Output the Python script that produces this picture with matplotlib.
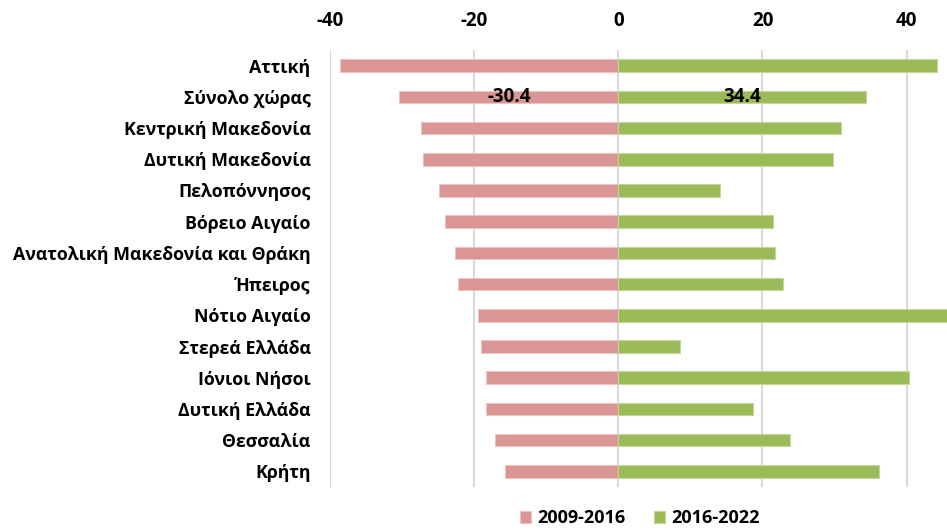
import numpy as np
import matplotlib.pyplot as plt

# === Data ===
regions = [
    "Αττική", "Σύνολο χώρας", "Κεντρική Μακεδονία", "Δυτική Μακεδονία",
    "Πελοπόννησος", "Βόρειο Αιγαίο", "Ανατολική Μακεδονία και Θράκη",
    "Ήπειρος", "Νότιο Αιγαίο", "Στερεά Ελλάδα", "Ιόνιοι Νήσοι",
    "Δυτική Ελλάδα", "Θεσσαλία", "Κρήτη",
]
change_2009_2016 = [-38.6, -30.4, -27.4, -27.1, -24.9, -24.1, -22.7,
                    -22.3, -19.5, -19.1, -18.3, -18.3, -17.1, -15.7]
change_2016_2022 = [44.2, 34.4, 30.9, 29.8, 14.1, 21.5, 21.8,
                    22.9, 47.0, 8.6, 40.3, 18.7, 23.8, 36.2]
labelled = "Σύνολο χώρας"

plt.rcParams['font.family'] = ['Open Sans', 'DejaVu Sans']
plt.rcParams['font.weight'] = 'bold'
plt.rcParams['axes.unicode_minus'] = False

fig = plt.figure(figsize=(9.47, 5.31), dpi=100)
ax = fig.add_axes([0.3485, 0.0829, 0.6515, 0.8229])

y = np.arange(len(regions))
b1 = ax.barh(y, change_2009_2016, height=0.4, color='#D99694',
             edgecolor='#EBC4C3', linewidth=0.8, label="2009-2016", zorder=3)
b2 = ax.barh(y, change_2016_2022, height=0.4, color='#9BBB59',
             edgecolor='#C3D69B', linewidth=0.8, label="2016-2022", zorder=3)

# value labels only for the national total
idx = regions.index(labelled)
for bars, vals in ((b1, change_2009_2016), (b2, change_2016_2022)):
    r = bars[idx]
    ax.text(r.get_x() + r.get_width() / 2, r.get_y() + r.get_height() / 2,
            f"{vals[idx]:.1f}", ha='center', va='center', fontsize=13.5,
            fontweight='bold', color='black', zorder=4)

ax.set_xlim(-40, 45.6)
ax.set_ylim(len(regions) - 0.5, -0.5)
ax.set_xticks([-40, -20, 0, 20, 40])
ax.set_yticks(y)
ax.set_yticklabels(regions)
ax.xaxis.tick_top()
ax.tick_params(axis='x', length=0, pad=14, labelsize=13.5)
ax.tick_params(axis='y', length=0, pad=14, labelsize=12.8)
ax.grid(axis='x', color='#D9D9D9', linewidth=1.5, zorder=0)
ax.set_axisbelow(True)
for s in ax.spines.values():
    s.set_visible(False)

fig.legend(handles=[b1, b2], loc='center', bbox_to_anchor=(0.676, 0.024),
           ncol=2, frameon=False, fontsize=13, handlelength=0.6,
           handleheight=0.6, columnspacing=1.6, handletextpad=0.35)

fig.savefig("out.png", dpi=100)
